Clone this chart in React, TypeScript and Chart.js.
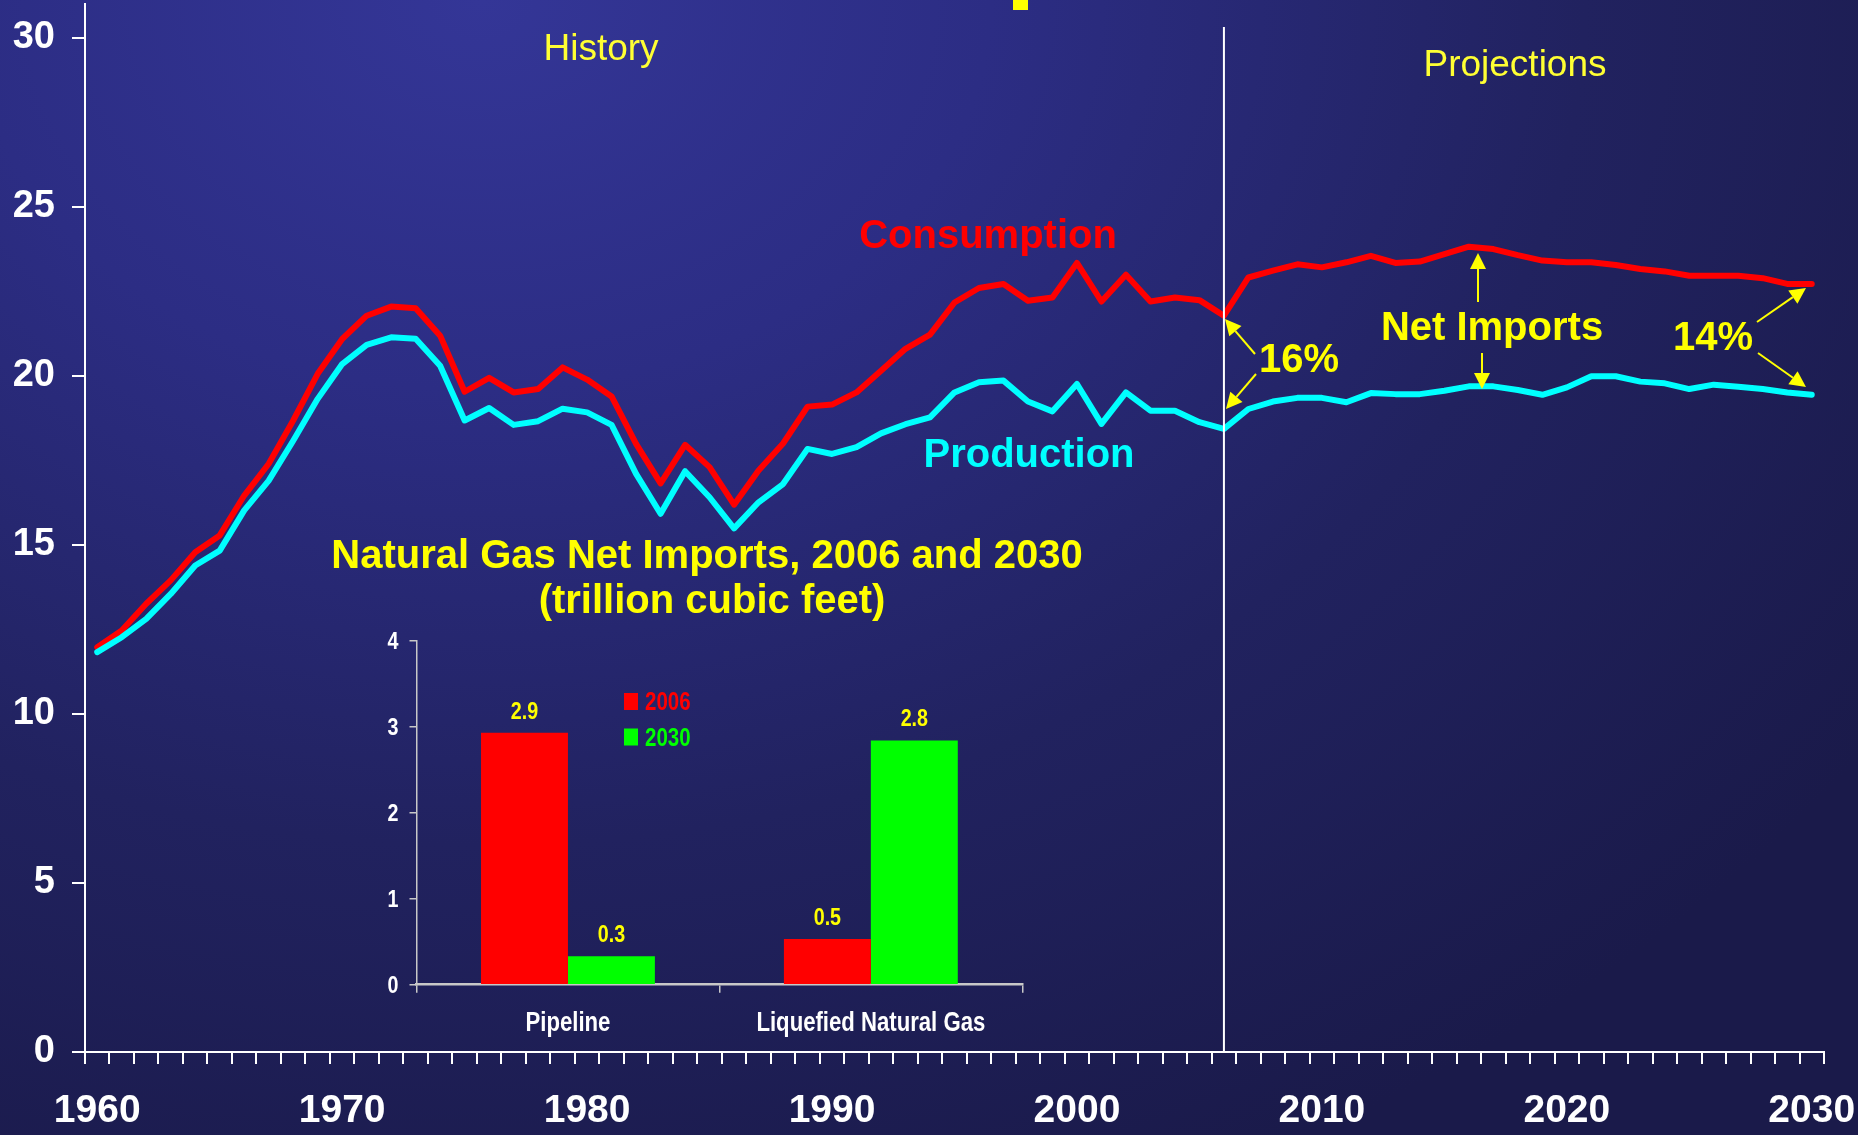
import React, { useEffect, useRef } from "react";
import { Chart, registerables } from "chart.js";

Chart.register(...registerables);

const years: string[] = Array.from({ length: 71 }, (_, i) => String(1960 + i));

const consumption: number[] = [
  11.97, 12.47, 13.26, 13.95, 14.78, 15.28, 16.46, 17.4, 18.68, 20.06,
  21.09, 21.78, 22.05, 22.0, 21.19, 19.53, 19.94, 19.51, 19.61, 20.25,
  19.89, 19.39, 17.99, 16.82, 17.96, 17.3, 16.19, 17.2, 18.0, 19.09,
  19.15, 19.51, 20.15, 20.8, 21.22, 22.17, 22.6, 22.72, 22.22, 22.32,
  23.34, 22.2, 22.99, 22.2, 22.32, 22.24, 21.78, 22.91, 23.11, 23.3,
  23.21, 23.36, 23.55, 23.34, 23.38, 23.6, 23.82, 23.75, 23.57, 23.41,
  23.36, 23.36, 23.28, 23.16, 23.09, 22.96, 22.96, 22.96, 22.89, 22.72,
  22.72,
];

const production: number[] = [
  11.83, 12.27, 12.81, 13.55, 14.39, 14.83, 16.02, 16.9, 18.08, 19.32,
  20.35, 20.92, 21.14, 21.1, 20.3, 18.68, 19.05, 18.55, 18.66, 19.03,
  18.92, 18.55, 17.1, 15.92, 17.18, 16.41, 15.49, 16.26, 16.8, 17.84,
  17.69, 17.89, 18.3, 18.57, 18.77, 19.51, 19.81, 19.86, 19.24, 18.95,
  19.76, 18.58, 19.51, 18.97, 18.97, 18.63, 18.43, 19.02, 19.24, 19.35,
  19.35, 19.22, 19.49, 19.46, 19.46, 19.56, 19.69, 19.69, 19.58, 19.44,
  19.66, 19.99, 19.99, 19.83, 19.78, 19.61, 19.74, 19.68, 19.61, 19.51,
  19.44,
];

const yTicks: number[] = [0, 5, 10, 15, 20, 25, 30];
const dividerYear = "2006";

const insetCategories: string[] = ["Pipeline", "Liquefied Natural Gas"];
const imports2006: number[] = [2.93, 0.53];
const imports2030: number[] = [0.33, 2.84];
const insetYTicks: number[] = [0, 1, 2, 3, 4];

const SANS = "'Liberation Sans', Arial, sans-serif";
const YELLOW = "#ffff00";
const CONDENSE = 0.82;

function zeroPadding(s: any) {
  s.paddingLeft = 0;
  s.paddingRight = 0;
  s.paddingTop = 0;
  s.paddingBottom = 0;
}

function arrow(ctx: CanvasRenderingContext2D, x1: number, y1: number, x2: number, y2: number) {
  const ang = Math.atan2(y2 - y1, x2 - x1);
  const hl = 16;
  const hw = 8;
  const bx = x2 - hl * Math.cos(ang);
  const by = y2 - hl * Math.sin(ang);
  ctx.beginPath();
  ctx.moveTo(x1, y1);
  ctx.lineTo(bx, by);
  ctx.stroke();
  ctx.beginPath();
  ctx.moveTo(x2, y2);
  ctx.lineTo(bx + hw * Math.sin(ang), by - hw * Math.cos(ang));
  ctx.lineTo(bx - hw * Math.sin(ang), by + hw * Math.cos(ang));
  ctx.closePath();
  ctx.fill();
}

function narrowText(
  ctx: CanvasRenderingContext2D,
  text: string,
  x: number,
  y: number,
  align: CanvasTextAlign
) {
  ctx.save();
  ctx.translate(x, y);
  ctx.scale(CONDENSE, 1);
  ctx.textAlign = align;
  ctx.textBaseline = "alphabetic";
  ctx.fillText(text, 0, 0);
  ctx.restore();
}

const annotationPlugin = {
  id: "annotations",
  afterDraw(chart: any) {
    const ctx: CanvasRenderingContext2D = chart.ctx;
    const xs = chart.scales.x;
    const area = chart.chartArea;
    ctx.save();
    const dx = xs.getPixelForValue(years.indexOf(dividerYear));
    ctx.strokeStyle = "#ffffff";
    ctx.lineWidth = 2;
    ctx.beginPath();
    ctx.moveTo(dx, 27);
    ctx.lineTo(dx, area.bottom);
    ctx.stroke();

    ctx.fillStyle = YELLOW;
    ctx.fillRect(1013, 0, 15, 10);

    ctx.textAlign = "center";
    ctx.textBaseline = "alphabetic";
    ctx.fillStyle = "#ffff33";
    ctx.font = `37px ${SANS}`;
    ctx.fillText("History", 601, 60);
    ctx.fillText("Projections", 1515, 76);

    ctx.font = `bold 40px ${SANS}`;
    ctx.fillStyle = "#ff0000";
    ctx.fillText("Consumption", 988, 248);
    ctx.fillStyle = "#00ffff";
    ctx.fillText("Production", 1029, 467);
    ctx.fillStyle = YELLOW;
    ctx.fillText("16%", 1299, 372);
    ctx.fillText("Net Imports", 1492, 340);
    ctx.fillText("14%", 1713, 350);
    ctx.fillText("Natural Gas Net Imports, 2006 and 2030", 707, 568);
    ctx.fillText("(trillion cubic feet)", 712, 613);

    ctx.strokeStyle = YELLOW;
    ctx.fillStyle = YELLOW;
    ctx.lineWidth = 2;
    arrow(ctx, 1255, 354, 1225, 319);
    arrow(ctx, 1256, 374, 1226, 409);
    arrow(ctx, 1478, 302, 1478, 253);
    arrow(ctx, 1482, 353, 1482, 389);
    arrow(ctx, 1757, 322, 1806, 288);
    arrow(ctx, 1758, 353, 1806, 387);
    ctx.restore();
  },
};

const insetPlugin = {
  id: "insetLabels",
  afterDraw(chart: any) {
    const ctx: CanvasRenderingContext2D = chart.ctx;
    const xs = chart.scales.x;
    const ys = chart.scales.y;
    ctx.save();
    ctx.fillStyle = "#ffffff";
    ctx.font = `bold 24px ${SANS}`;
    insetYTicks.forEach((v) => {
      narrowText(ctx, String(v), ys.right - 18, ys.getPixelForValue(v) + 8.5, "right");
    });
    ctx.font = `bold 27px ${SANS}`;
    chart.data.labels.forEach((lab: string, i: number) => {
      narrowText(ctx, lab, xs.getPixelForValue(i), ys.bottom + 46.5, "center");
    });
    ctx.font = `bold 24px ${SANS}`;
    ctx.fillStyle = YELLOW;
    chart.data.datasets.forEach((ds: any, di: number) => {
      const meta = chart.getDatasetMeta(di);
      meta.data.forEach((bar: any, i: number) => {
        narrowText(ctx, Number(ds.data[i]).toFixed(1), bar.x, bar.y - 14, "center");
      });
    });
    ctx.font = `bold 25px ${SANS}`;
    chart.data.datasets.forEach((ds: any, di: number) => {
      const top = 73 + di * 35.5;
      ctx.fillStyle = ds.backgroundColor;
      ctx.fillRect(294, top, 14, 17);
      narrowText(ctx, ds.label, 315, top + 17, "left");
    });
    ctx.restore();
  },
};

export default function App() {
  const mainRef = useRef<HTMLCanvasElement | null>(null);
  const insetRef = useRef<HTMLCanvasElement | null>(null);

  useEffect(() => {
    if (!mainRef.current || !insetRef.current) return;
    const main = new Chart(mainRef.current, {
      type: "line",
      data: {
        labels: years,
        datasets: [
          {
            label: "Production",
            data: production,
            borderColor: "#00ffff",
            backgroundColor: "#00ffff",
            borderWidth: 6,
            pointRadius: 0,
            tension: 0,
            borderJoinStyle: "round",
            borderCapStyle: "round",
          },
          {
            label: "Consumption",
            data: consumption,
            borderColor: "#ff0000",
            backgroundColor: "#ff0000",
            borderWidth: 6,
            pointRadius: 0,
            tension: 0,
            borderJoinStyle: "round",
            borderCapStyle: "round",
          },
        ],
      },
      options: {
        animation: false,
        responsive: false,
        maintainAspectRatio: false,
        layout: { autoPadding: false, padding: { top: 4, right: 34, left: 0, bottom: 0 } },
        plugins: { legend: { display: false }, tooltip: { enabled: false } },
        scales: {
          x: {
            type: "category",
            offset: true,
            grid: {
              offset: true,
              drawOnChartArea: false,
              drawTicks: true,
              tickLength: 12,
              color: "#ffffff",
              lineWidth: 2,
            },
            border: { color: "#ffffff", width: 2 },
            ticks: {
              autoSkip: false,
              maxRotation: 0,
              minRotation: 0,
              color: "#ffffff",
              padding: 24,
              font: { family: SANS, size: 39, weight: "bold" },
              callback: (_v: any, i: number) => (Number(years[i]) % 10 === 0 ? years[i] : ""),
            },
            afterFit: (s: any) => {
              s.height = 83;
              zeroPadding(s);
            },
          },
          y: {
            min: 0,
            max: 31,
            ticks: {
              stepSize: 5,
              color: "#ffffff",
              padding: 17,
              font: { family: SANS, size: 38, weight: "bold" },
            },
            grid: {
              drawOnChartArea: false,
              tickLength: 13,
              color: "#ffffff",
              lineWidth: 2,
            },
            border: { color: "#ffffff", width: 2 },
            afterBuildTicks: (s: any) => {
              s.ticks = yTicks.map((v) => ({ value: v }));
            },
            afterFit: (s: any) => {
              s.width = 85;
              zeroPadding(s);
            },
          },
        },
      } as any,
      plugins: [annotationPlugin],
    });

    const inset = new Chart(insetRef.current, {
      type: "bar",
      data: {
        labels: insetCategories,
        datasets: [
          { label: "2006", data: imports2006, backgroundColor: "#ff0000", borderWidth: 0 },
          { label: "2030", data: imports2030, backgroundColor: "#00ff00", borderWidth: 0 },
        ],
      },
      options: {
        animation: false,
        responsive: false,
        maintainAspectRatio: false,
        layout: { autoPadding: false, padding: { top: 20.7, right: 27.7, left: 0, bottom: 0 } },
        plugins: { legend: { display: false }, tooltip: { enabled: false } },
        datasets: { bar: { categoryPercentage: 0.574, barPercentage: 1 } },
        scales: {
          x: {
            grid: {
              offset: true,
              drawOnChartArea: false,
              tickLength: 8,
              color: "#c8c8c8",
              lineWidth: 1.5,
            },
            border: { color: "#c8c8c8", width: 2.5 },
            ticks: { display: false },
            afterFit: (s: any) => {
              s.height = 65.3;
              zeroPadding(s);
            },
          },
          y: {
            min: 0,
            max: 4,
            ticks: { display: false, stepSize: 1 },
            grid: {
              drawOnChartArea: false,
              tickLength: 7,
              color: "#c8c8c8",
              lineWidth: 1.5,
            },
            border: { color: "#c8c8c8", width: 1.5 },
            afterBuildTicks: (s: any) => {
              s.ticks = insetYTicks.map((v) => ({ value: v }));
            },
            afterFit: (s: any) => {
              s.width = 86.5;
              zeroPadding(s);
            },
          },
        },
      } as any,
      plugins: [insetPlugin],
    });

    return () => {
      main.destroy();
      inset.destroy();
    };
  }, []);

  return (
    <div
      style={{
        position: "absolute",
        left: 0,
        top: 0,
        width: 1858,
        height: 1135,
        overflow: "hidden",
        background:
          "radial-gradient(ellipse 1700px 1300px at 480px 0px, #343697 0%, #2c2d84 30%, #21225f 65%, #1a1a4a 100%)",
      }}
    >
      <canvas
        ref={mainRef}
        width={1858}
        height={1135}
        style={{ position: "absolute", left: 0, top: 0, width: 1858, height: 1135 }}
      />
      <canvas
        ref={insetRef}
        width={720}
        height={430}
        style={{ position: "absolute", left: 330, top: 620, width: 720, height: 430 }}
      />
    </div>
  );
}
